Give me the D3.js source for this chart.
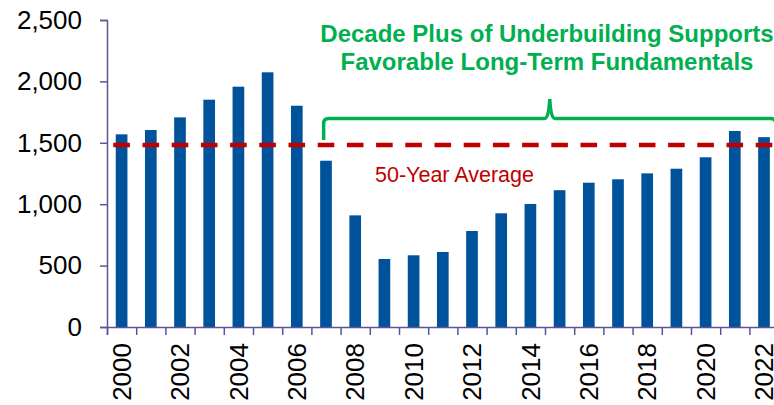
<!DOCTYPE html>
<html>
<head>
<meta charset="utf-8">
<script src="https://cdn.jsdelivr.net/npm/d3@7"></script>
<style>
  body { margin: 0; background: #fff; }
  svg { display: block; font-family: "Liberation Sans", Arial, sans-serif; }
</style>
</head>
<body>
<div id="chart"></div>
<script>
// housing starts (thousands)
const years = d3.range(2000, 2023).map(String);
const starts = [1569, 1604, 1707, 1851, 1957, 2074, 1802, 1354, 909, 554, 584, 611,
  782, 926, 1002, 1114, 1175, 1203, 1251, 1289, 1382, 1596, 1546];
const yTicks = [0, 500, 1000, 1500, 2000, 2500];
const xLabels = years.filter((d, i) => i % 2 === 0);
const average = 1482;
const titleLines = ["Decade Plus of Underbuilding Supports", "Favorable Long-Term Fundamentals"];
const avgLabel = "50-Year Average";

const data = years.map((d, i) => ({ year: d, value: starts[i] }));

const W = 774, H = 405;
const plotLeft = 107, plotTop = 20, plotBottom = 327;
const step = 29.2;
const axisColor = "#5C5496";

const svg = d3.select("#chart").append("svg")
  .attr("width", W).attr("height", H);

// scales
const x = d3.scaleBand().domain(years)
  .range([plotLeft, plotLeft + step * years.length])
  .paddingInner(0.6).paddingOuter(0.3);
const y = d3.scaleLinear().domain([0, 2500]).range([plotBottom, plotTop]);

// bars
svg.append("g").selectAll("rect")
  .data(data)
  .join("rect")
  .attr("x", d => x(d.year))
  .attr("y", d => y(d.value))
  .attr("width", x.bandwidth())
  .attr("height", d => y(0) - y(d.value))
  .attr("fill", "#00529B");

// y axis
const yAxis = svg.append("g")
  .attr("transform", `translate(${plotLeft},0)`)
  .call(d3.axisLeft(y).tickValues(yTicks).tickFormat(d3.format(",")).tickSize(7).tickPadding(18));
yAxis.select(".domain").attr("stroke", axisColor).attr("stroke-width", 1.5);
yAxis.selectAll(".tick line").attr("stroke", axisColor).attr("stroke-width", 1.5);
yAxis.selectAll("text").attr("font-size", 26).attr("fill", "#000");

// x axis: ticks sit between the bars
const xEdge = d3.scaleLinear().domain([0, years.length]).range(x.range());
const xAxis = svg.append("g")
  .attr("transform", `translate(0,${plotBottom})`)
  .call(d3.axisBottom(xEdge).tickValues(d3.range(years.length + 1)).tickFormat("").tickSize(8));
xAxis.select(".domain").attr("stroke", axisColor).attr("stroke-width", 1.5);
xAxis.selectAll(".tick line").attr("stroke", axisColor).attr("stroke-width", 1.5);

// year labels, rotated
const xLab = svg.append("g")
  .attr("transform", `translate(0,${plotBottom})`)
  .call(d3.axisBottom(x).tickValues(xLabels).tickSize(0));
xLab.select(".domain").remove();
xLab.selectAll("text")
  .attr("font-size", 26)
  .attr("fill", "#000")
  .attr("text-anchor", "end")
  .attr("transform", "rotate(-90)")
  .attr("x", -16)
  .attr("y", 0)
  .attr("dy", "0.35em");

// 50-year average line
const bw = x.bandwidth();
svg.append("line")
  .attr("x1", x(years[0]) + bw / 2 - 8.3)
  .attr("x2", W + 20)
  .attr("y1", y(average)).attr("y2", y(average))
  .attr("stroke", "#C00000")
  .attr("stroke-width", 4.5)
  .attr("stroke-dasharray", "16.6 12.6");

svg.append("text")
  .attr("x", 375).attr("y", 182)
  .attr("font-size", 21.5)
  .attr("fill", "#C00000")
  .text(avgLabel);

// bracket over the post-2007 years
const bY = 118.5;
const xL = x("2007") + 3.5;
const xR = x("2022") + bw + 6;
const xM = (xL + xR) / 2;
const bracket = d3.path();
bracket.moveTo(xL, 140);
bracket.lineTo(xL, bY + 5);
bracket.quadraticCurveTo(xL, bY, xL + 5, bY);
bracket.lineTo(xM - 5, bY);
bracket.quadraticCurveTo(xM - 1, bY, xM, 99);
bracket.quadraticCurveTo(xM + 1, bY, xM + 5, bY);
bracket.lineTo(xR - 5, bY);
bracket.quadraticCurveTo(xR, bY, xR, bY + 5);
bracket.lineTo(xR, 140);
svg.append("path")
  .attr("d", bracket.toString())
  .attr("fill", "none")
  .attr("stroke", "#00B050")
  .attr("stroke-width", 3.5);

// title
svg.append("g").selectAll("text")
  .data(titleLines)
  .join("text")
  .attr("x", 547)
  .attr("y", (d, i) => 42 + i * 28)
  .attr("text-anchor", "middle")
  .attr("font-size", 24)
  .attr("font-weight", "bold")
  .attr("fill", "#00B050")
  .text(d => d);
</script>
</body>
</html>
